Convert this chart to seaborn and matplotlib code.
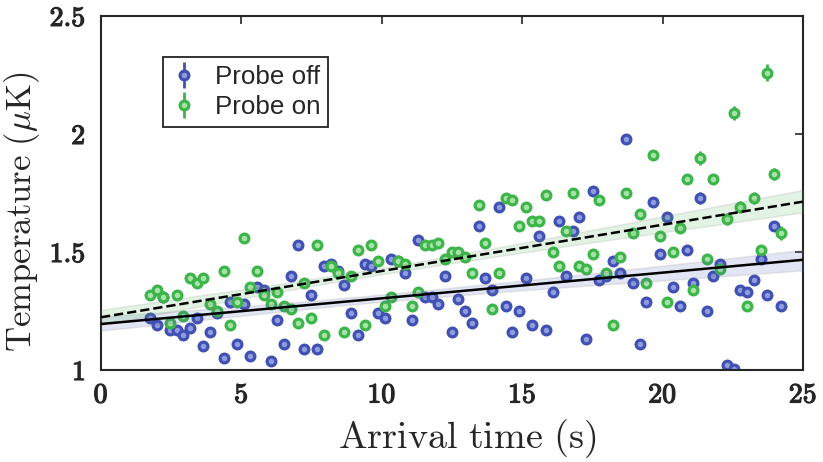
import numpy as np
import seaborn as sns
import matplotlib
matplotlib.use('Agg')
import matplotlib.pyplot as plt
import matplotlib.patheffects as pe

# arrival times (s), shared by both series
arrival_time = [1.74, 1.98, 2.22, 2.46, 2.69, 2.93, 3.17, 3.41, 3.65, 3.89,
                4.13, 4.37, 4.61, 4.85, 5.08, 5.32, 5.56, 5.80, 6.04, 6.28,
                6.52, 6.76, 7.00, 7.24, 7.47, 7.71, 7.95, 8.19, 8.43, 8.67,
                8.91, 9.15, 9.39, 9.62, 9.86, 10.10, 10.34, 10.58, 10.82, 11.06,
                11.30, 11.54, 11.78, 12.01, 12.25, 12.49, 12.73, 12.97, 13.21, 13.45,
                13.69, 13.93, 14.17, 14.41, 14.64, 14.88, 15.12, 15.36, 15.60, 15.84,
                16.08, 16.32, 16.56, 16.80, 17.03, 17.27, 17.51, 17.75, 17.99, 18.23,
                18.47, 18.71, 18.95, 19.19, 19.42, 19.66, 19.90, 20.14, 20.38, 20.62,
                20.86, 21.10, 21.34, 21.58, 21.81, 22.05, 22.29, 22.53, 22.77, 23.01,
                23.25, 23.49, 23.73, 23.97, 24.20]

temp_off = [1.22, 1.19, 1.31, 1.17, 1.17, 1.15, 1.18, 1.22, 1.10, 1.16,
            1.24, 1.05, 1.29, 1.11, 1.28, 1.06, 1.35, 1.34, 1.04, 1.21,
            1.11, 1.40, 1.53, 1.09, 1.32, 1.09, 1.44, 1.45, 1.42, 1.36,
            1.24, 1.15, 1.45, 1.44, 1.24, 1.22, 1.47, 1.46, 1.41, 1.21,
            1.55, 1.31, 1.31, 1.28, 1.40, 1.16, 1.30, 1.25, 1.20, 1.61,
            1.39, 1.34, 1.69, 1.27, 1.16, 1.25, 1.39, 1.19, 1.57, 1.17,
            1.33, 1.63, 1.40, 1.59, 1.65, 1.13, 1.76, 1.38, 1.40, 1.46,
            1.41, 1.98, 1.37, 1.11, 1.29, 1.71, 1.49, 1.65, 1.35, 1.27,
            1.51, 1.37, 1.73, 1.25, 1.40, 1.45, 1.02, 1.005, 1.34, 1.33,
            1.38, 1.47, 1.32, 1.61, 1.27]

err_off = [0.01] * 76 + [0.02] + [0.01] * 5 + [0.025] + [0.01] * 2 + [0.015] + [0.01] * 9

temp_on = [1.32, 1.34, 1.31, 1.20, 1.32, 1.23, 1.39, 1.37, 1.39, 1.28,
           1.25, 1.42, 1.19, 1.29, 1.56, 1.35, 1.42, 1.32, 1.28, 1.33,
           1.27, 1.26, 1.20, 1.37, 1.22, 1.53, 1.15, 1.44, 1.41, 1.16,
           1.40, 1.51, 1.19, 1.53, 1.46, 1.27, 1.31, 1.46, 1.45, 1.27,
           1.33, 1.53, 1.53, 1.54, 1.47, 1.50, 1.50, 1.48, 1.41, 1.70,
           1.54, 1.26, 1.41, 1.73, 1.72, 1.61, 1.69, 1.63, 1.63, 1.74,
           1.50, 1.44, 1.59, 1.75, 1.44, 1.43, 1.49, 1.72, 1.41, 1.19,
           1.48, 1.75, 1.58, 1.66, 1.37, 1.91, 1.57, 1.29, 1.50, 1.60,
           1.81, 1.34, 1.90, 1.47, 1.81, 1.43, 1.64, 2.09, 1.69, 1.27,
           1.73, 1.51, 2.26, 1.83, 1.58]

err_on = ([0.01] * 75 + [0.02, 0.01, 0.01, 0.02, 0.02, 0.02, 0.01, 0.03, 0.01,
          0.02, 0.01, 0.025, 0.03, 0.025, 0.01, 0.025, 0.01, 0.035, 0.025, 0.03])

xticks = [0, 5, 10, 15, 20, 25]
yticks = [1, 1.5, 2, 2.5]
xtick_labels = ['0', '5', '10', '15', '20', '25']
ytick_labels = ['1', '1.5', '2', '2.5']

blue, blue_face = '#4151b3', '#8e9ce0'
green, green_face = '#3db54b', '#a6e3a6'
dark = '#262626'

sns.set_style('white')
plt.rcParams['mathtext.fontset'] = 'cm'
plt.rcParams['font.family'] = ['Liberation Sans', 'DejaVu Sans']

fig = plt.figure(figsize=(8.23, 4.62), dpi=100)
ax = fig.add_axes([0.1227, 0.199, 0.853, 0.7664])
ax.set_xlim(0, 25)
ax.set_ylim(1, 2.5)

ax.errorbar(arrival_time, temp_off, yerr=err_off, fmt='o', color=blue,
            mfc=blue_face, mec=blue, ms=6.3, mew=2.3, elinewidth=2, capsize=0,
            label='Probe off', zorder=2)
ax.errorbar(arrival_time, temp_on, yerr=err_on, fmt='o', color=green,
            mfc=green_face, mec=green, ms=6.3, mew=2.3, elinewidth=2, capsize=0,
            label='Probe on', zorder=2)

# linear fits with confidence bands
for temps, band, ls in [(temp_off, blue, '-'), (temp_on, green, '--')]:
    n_before = len(ax.collections)
    sns.regplot(x=arrival_time, y=temps, ax=ax, scatter=False, ci=68,
                truncate=False, seed=3, color='black',
                line_kws=dict(lw=1.8, ls=ls, zorder=4))
    for coll in ax.collections[n_before:]:
        coll.set_facecolor(matplotlib.colors.to_rgba(band, 0.22))
        coll.set_edgecolor('#7a7a7a')
        coll.set_linewidth(1.1)
        coll.set_zorder(3)

bold = [pe.withStroke(linewidth=0.9, foreground=dark)]
ax.set_xticks(xticks)
ax.set_xticklabels([r'$\mathbf{%s}$' % s for s in xtick_labels], fontsize=20,
                   color=dark, path_effects=bold)
ax.set_yticks(yticks)
ax.set_yticklabels([r'$\mathbf{%s}$' % s for s in ytick_labels], fontsize=20,
                   color=dark, path_effects=bold)
ax.tick_params(direction='in', top=True, right=True, length=6, width=1.2,
               color=dark)
ax.tick_params(axis='x', pad=9)
ax.tick_params(axis='y', pad=11)
for sp in ax.spines.values():
    sp.set_visible(True)
    sp.set_linewidth(1.5)
    sp.set_color(dark)

ax.set_xlabel(r'$\mathrm{Arrival\ time\ (s)}$', fontsize=27.5, color=dark)
ax.set_ylabel(r'$\mathrm{Temperature\ (}\mu\mathrm{K)}$', fontsize=25, color=dark)
ax.xaxis.set_label_coords(0.521, -0.133)
ax.yaxis.set_label_coords(-0.084, 0.446)

leg = ax.legend(loc='upper left', bbox_to_anchor=(0.088, 0.884), fontsize=18.7,
                frameon=True, fancybox=False, framealpha=1, edgecolor='#222222',
                handlelength=1.0, handletextpad=0.7, borderpad=0.3,
                labelspacing=0.25, borderaxespad=0)
leg.get_frame().set_linewidth(1.3)

fig.savefig('out.png', dpi=100)
